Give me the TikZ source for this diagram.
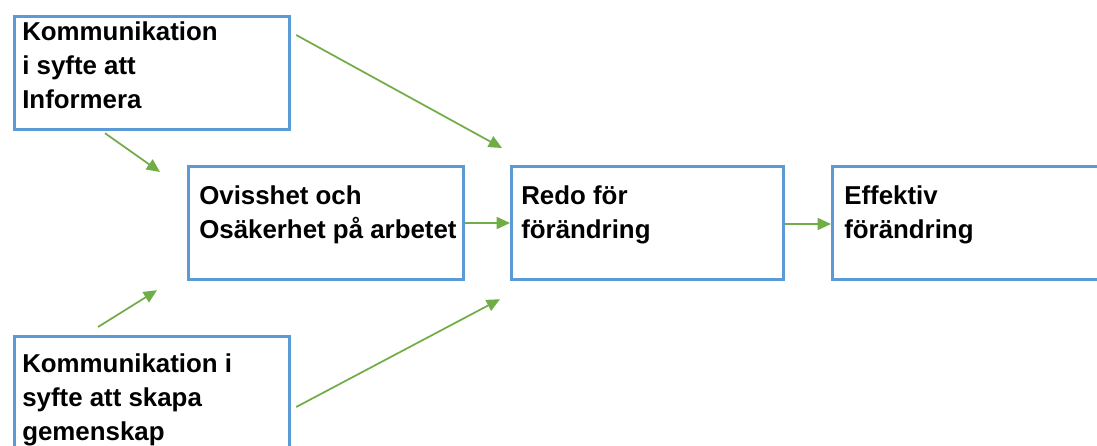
\documentclass[tikz,border=0pt]{standalone}
\usepackage{fontspec}
\setmainfont{Liberation Sans}
\usetikzlibrary{arrows.meta}
\definecolor{boxblue}{HTML}{5B9BD5}
\definecolor{arrgreen}{HTML}{70AD47}
\tikzset{
  box/.style={draw=boxblue, line width=2.4pt, fill=white, rectangle, inner sep=0pt, anchor=north west},
  txt/.style={anchor=north west, inner sep=0pt, align=left, font=\fontsize{19.4}{25.5}\selectfont\bfseries},
  arr/.style={draw=arrgreen, line width=1.3pt, -{Triangle[length=10pt,width=9pt]}}
}
\begin{document}
\begin{tikzpicture}[x=0.75pt,y=-0.75pt]
\useasboundingbox (0,0) rectangle (1097,446);
\clip (0,0) rectangle (1097,446);
\node[box, minimum width=275*0.75pt, minimum height=113*0.75pt] (b1) at (13,15) {};
\node[box, minimum width=275*0.75pt, minimum height=113*0.75pt] (b2) at (187,165) {};
\node[box, minimum width=272*0.75pt, minimum height=113*0.75pt] (b3) at (510,165) {};
\node[box, minimum width=300*0.75pt, minimum height=113*0.75pt] (b4) at (831,165) {};
\node[box, minimum width=275*0.75pt, minimum height=140*0.75pt] (b5) at (13,335) {};
\node[txt] (t1) at (22,21) {Kommunikation\\i syfte att\\Informera};
\node[txt] (t2) at (199,185) {Ovisshet och\\Osäkerhet på arbetet};
\node[txt] (t3) at (521,185) {Redo för\\förändring};
\node[txt] (t4) at (844,185) {Effektiv\\förändring};
\node[txt] (t5) at (22,353) {Kommunikation i\\syfte att skapa\\gemenskap};
\draw[arr] ([shift={(5,20)}]b1.north east) -- ([shift={(-8,-17)}]b3.north west);
\draw[arr] ([shift={(92,2)}]b1.south west) -- ([shift={(-27,7)}]b2.north west);
\draw[arr] ([shift={(85,-8)}]b5.north west) -- ([shift={(-30,9)}]b2.south west);
\draw[arr] ([shift={(5,72)}]b5.north east) -- ([shift={(-10,18)}]b3.south west);
\draw[arr] (b2.east |- 0,223) -- (b3.west |- 0,223);
\draw[arr] (b3.east |- 0,224) -- (b4.west |- 0,224);
\end{tikzpicture}
\end{document}
